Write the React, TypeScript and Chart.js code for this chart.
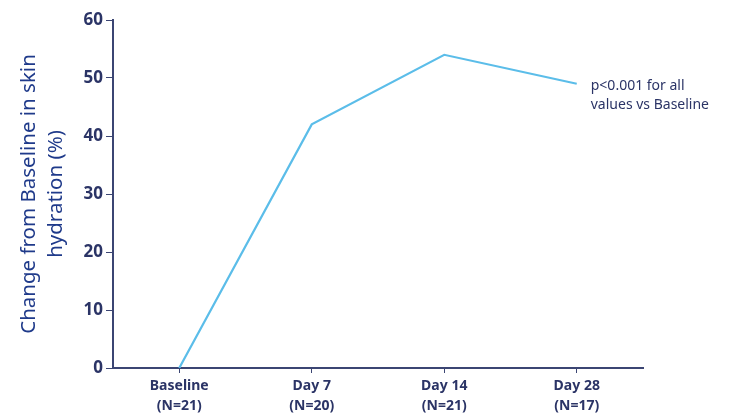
import React, { useEffect, useRef } from "react";
import { Chart, registerables } from "chart.js";

Chart.register(...registerables);

const categories: string[][] = [
  ["Baseline", "(N=21)"],
  ["Day 7", "(N=20)"],
  ["Day 14", "(N=21)"],
  ["Day 28", "(N=17)"],
];
const changeValues: number[] = [0, 42, 54, 49];
const yTitle: string[] = ["Change from Baseline in skin", "hydration (%)"];
const noteLines: string[] = ["p<0.001 for all", "values vs Baseline"];

const NAVY = "#2b3466";
const AXIS = "#3b4573";
const TITLE = "#1f3a8a";
const LINE = "#5bbde9";

const notePlugin = {
  id: "notePlugin",
  afterDraw(chart: any) {
    const ctx = chart.ctx;
    const xs = chart.scales.x;
    const ys = chart.scales.y;
    const last = changeValues.length - 1;
    const px = xs.getPixelForValue(last);
    const py = ys.getPixelForValue(changeValues[last]);
    ctx.save();
    ctx.fillStyle = NAVY;
    ctx.font = "14px 'Noto Sans'";
    ctx.textAlign = "left";
    ctx.textBaseline = "middle";
    noteLines.forEach((t, i) => {
      ctx.fillText(t, px + 14, py + 2 + i * 19);
    });
    ctx.restore();
  },
};

export default function App() {
  const ref = useRef<HTMLCanvasElement | null>(null);
  useEffect(() => {
    if (!ref.current) return;
    const chart = new Chart(ref.current, {
      type: "line",
      data: {
        labels: categories,
        datasets: [
          {
            data: changeValues,
            borderColor: LINE,
            borderWidth: 2.2,
            pointRadius: 0,
            fill: false,
            tension: 0,
          },
        ],
      },
      options: {
        animation: false,
        responsive: false,
        maintainAspectRatio: false,
        layout: { padding: { left: 0, right: 87, top: 20, bottom: 0 } },
        plugins: { legend: { display: false }, tooltip: { enabled: false } },
        scales: {
          x: {
            type: "category",
            offset: true,
            grid: {
              display: true,
              drawOnChartArea: false,
              drawTicks: true,
              tickLength: 5,
              color: AXIS,
              offset: false,
            },
            border: { display: true, color: AXIS, width: 2 },
            ticks: {
              color: NAVY,
              font: { family: "'Noto Sans'", size: 14, weight: "bold", lineHeight: 1.45 },
              padding: 3,
              maxRotation: 0,
            },
            afterFit: (s: any) => {
              s.height = 50;
            },
          },
          y: {
            min: 0,
            max: 60,
            ticks: {
              stepSize: 10,
              color: NAVY,
              font: { family: "'Noto Sans'", size: 17, weight: "bold" },
              padding: 3,
            },
            grid: {
              display: true,
              drawOnChartArea: false,
              drawTicks: true,
              tickLength: 7,
              color: AXIS,
            },
            border: { display: true, color: AXIS, width: 2 },
            title: {
              display: true,
              text: yTitle,
              color: TITLE,
              font: { family: "'Noto Sans'", size: 20.5, weight: "normal", lineHeight: 1.3 },
              padding: { top: 16, bottom: 0 },
            },
            afterFit: (s: any) => {
              s.width = 113;
            },
          },
        },
      },
      plugins: [notePlugin],
    });
    return () => chart.destroy();
  }, []);
  return (
    <div style={{ position: "fixed", left: 0, top: 0, width: 730, height: 418, background: "#fff" }}>
      <canvas ref={ref} width={730} height={418} style={{ width: 730, height: 418, display: "block" }} />
    </div>
  );
}
